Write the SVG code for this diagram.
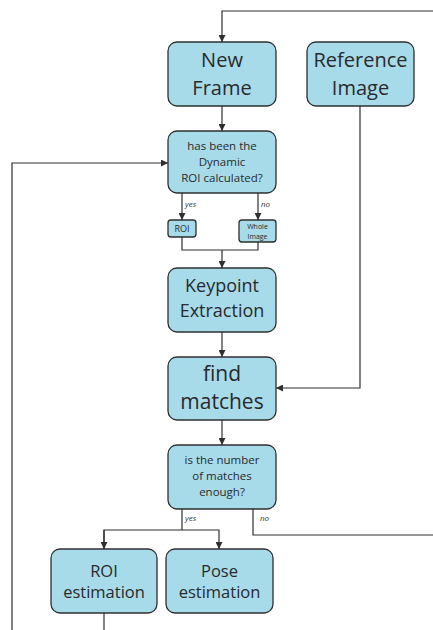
<svg xmlns="http://www.w3.org/2000/svg" width="433" height="630" viewBox="0 0 433 630">
  <style>
    .box { fill: #a7dbea; stroke: #2f2f2f; stroke-width: 1.3; }
    .t { font-family: "Open Sans", "Noto Sans", "Liberation Sans", sans-serif; fill: #2a2a2a; text-anchor: middle; }
    .lbl { font-family: "Open Sans", "Noto Sans", "Liberation Sans", sans-serif; font-style: italic; font-size: 8px; fill: #333; }
    .wire { fill: none; stroke: #2f2f2f; stroke-width: 1.2; }
  </style>
  <defs>
    <marker id="arr" viewBox="0 0 10 10" refX="10" refY="5" markerWidth="7" markerHeight="7" orient="auto" markerUnits="userSpaceOnUse">
      <path d="M0,0 L10,5 L0,10 z" fill="#2f2f2f"/>
    </marker>
  </defs>

  <rect width="433" height="630" fill="#ffffff"/>

  <g id="connectors">
    <!-- loop back into New Frame -->
    <path class="wire" d="M433,11 H222 V42" marker-end="url(#arr)"/>
    <!-- New Frame to first decision -->
    <path class="wire" d="M222,106 V131" marker-end="url(#arr)"/>
    <!-- return from ROI estimation -->
    <path class="wire" d="M12,630 V163 H168" marker-end="url(#arr)"/>
    <!-- yes / no branches -->
    <path class="wire" d="M182,193 V220" marker-end="url(#arr)"/>
    <path class="wire" d="M258,193 V220" marker-end="url(#arr)"/>
    <!-- merge into Keypoint Extraction -->
    <path class="wire" d="M182,237 V250 H258 V242"/>
    <path class="wire" d="M222,250 V268" marker-end="url(#arr)"/>
    <!-- Keypoint Extraction to find matches -->
    <path class="wire" d="M222,332 V357" marker-end="url(#arr)"/>
    <!-- Reference Image to find matches -->
    <path class="wire" d="M360,106 V388 H276" marker-end="url(#arr)"/>
    <!-- find matches to second decision -->
    <path class="wire" d="M222,420 V445" marker-end="url(#arr)"/>
    <!-- yes branch split -->
    <path class="wire" d="M182,509 V530"/>
    <path class="wire" d="M104,549 V530 H219 V549" marker-end="url(#arr)"/>
    <path class="wire" d="M104,530 V549" marker-end="url(#arr)"/>
    <!-- no branch -->
    <path class="wire" d="M253,509 V535 H433"/>
    <!-- ROI estimation output -->
    <path class="wire" d="M104,613 V630"/>
    <text class="lbl" x="185" y="207">yes</text>
    <text class="lbl" x="261" y="207">no</text>
    <text class="lbl" x="185" y="521">yes</text>
    <text class="lbl" x="260" y="521">no</text>
  </g>

  <g id="new-frame">
    <rect class="box" x="168" y="42" width="108" height="64" rx="9"/>
    <text class="t" x="222" y="67" font-size="20">New</text>
    <text class="t" x="222" y="95" font-size="20">Frame</text>
  </g>

  <g id="reference-image">
    <rect class="box" x="307" y="42" width="107" height="64" rx="9"/>
    <text class="t" x="360.5" y="67" font-size="20">Reference</text>
    <text class="t" x="360.5" y="95" font-size="20">Image</text>
  </g>

  <g id="roi-calculated">
    <rect class="box" x="168" y="131" width="108" height="62" rx="9"/>
    <text class="t" x="222" y="150" font-size="11.5">has been the</text>
    <text class="t" x="222" y="166" font-size="11.5">Dynamic</text>
    <text class="t" x="222" y="182" font-size="11.5">ROI calculated?</text>
  </g>

  <g id="roi-small">
    <rect class="box" x="168" y="220" width="28" height="17" rx="3"/>
    <text class="t" x="182" y="232" font-size="9">ROI</text>
  </g>

  <g id="whole-image">
    <rect class="box" x="239" y="220" width="37" height="22" rx="3"/>
    <text class="t" x="257.5" y="229" font-size="7">Whole</text>
    <text class="t" x="257.5" y="239" font-size="7">Image</text>
  </g>

  <g id="keypoint-extraction">
    <rect class="box" x="168" y="268" width="108" height="64" rx="9"/>
    <text class="t" x="222" y="292" font-size="18">Keypoint</text>
    <text class="t" x="222" y="317" font-size="18">Extraction</text>
  </g>

  <g id="find-matches">
    <rect class="box" x="168" y="357" width="108" height="63" rx="9"/>
    <text class="t" x="222" y="381" font-size="21">find</text>
    <text class="t" x="222" y="409" font-size="21">matches</text>
  </g>

  <g id="matches-enough">
    <rect class="box" x="168" y="445" width="108" height="64" rx="9"/>
    <text class="t" x="222" y="464" font-size="11.5">is the number</text>
    <text class="t" x="222" y="480" font-size="11.5">of matches</text>
    <text class="t" x="222" y="496" font-size="11.5">enough?</text>
  </g>

  <g id="roi-estimation">
    <rect class="box" x="51" y="549" width="106" height="64" rx="9"/>
    <text class="t" x="104" y="577" font-size="16.5">ROI</text>
    <text class="t" x="104" y="598" font-size="16.5">estimation</text>
  </g>

  <g id="pose-estimation">
    <rect class="box" x="166" y="549" width="107" height="64" rx="9"/>
    <text class="t" x="219.5" y="577" font-size="16.5">Pose</text>
    <text class="t" x="219.5" y="598" font-size="16.5">estimation</text>
  </g>
</svg>
